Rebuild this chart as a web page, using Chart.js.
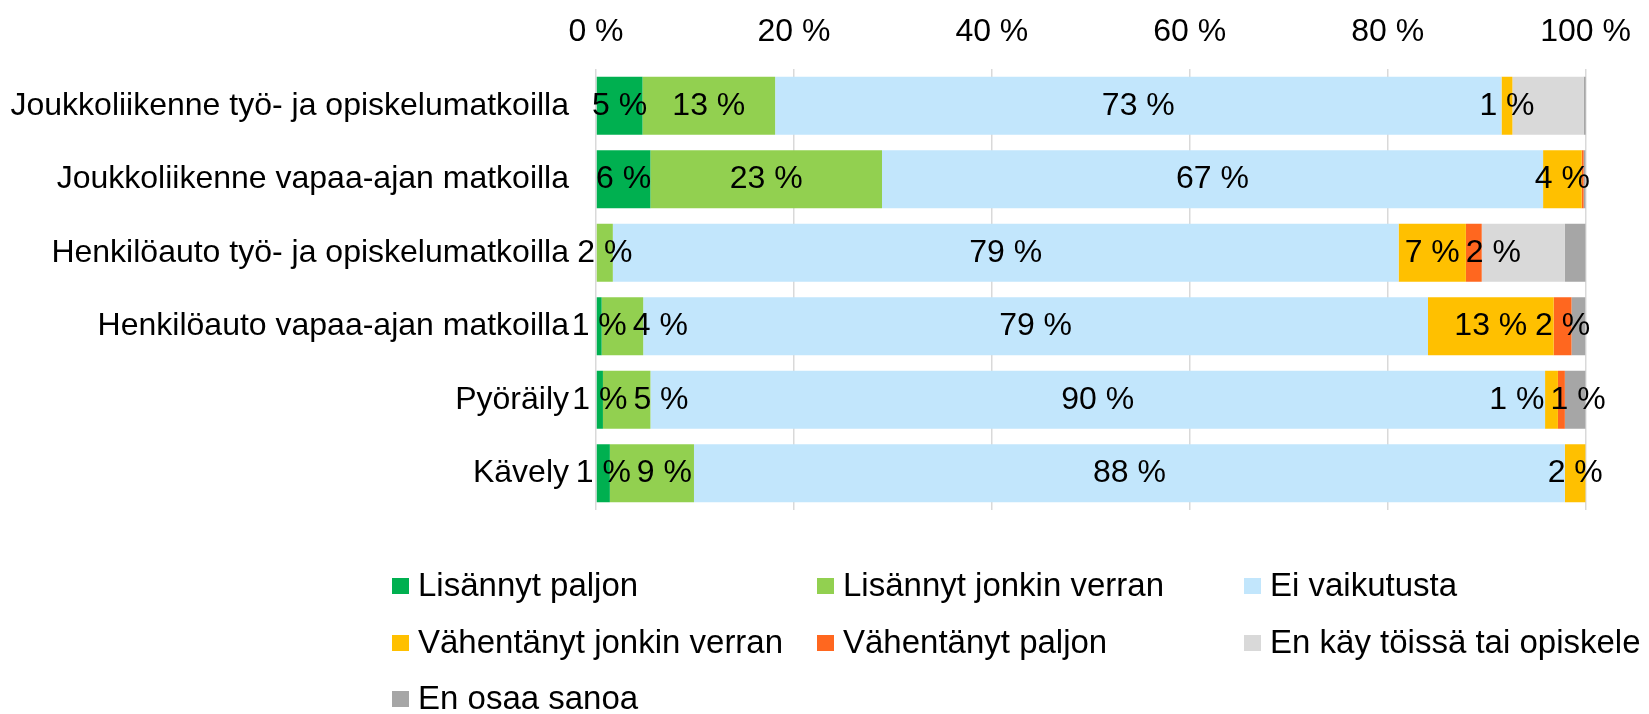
<!DOCTYPE html>
<html>
<head>
<meta charset="utf-8">
<script src="https://cdn.jsdelivr.net/npm/chart.js@4.4.1/dist/chart.umd.min.js"></script>
<style>
html, body { margin: 0; padding: 0; background: #fff; }
#wrap { width: 1649px; height: 714px; }
</style>
</head>
<body>
<div id="wrap"><canvas id="myBar" width="1649" height="714"></canvas></div>
<script>
var categories = [
	'Joukkoliikenne työ- ja opiskelumatkoilla',
	'Joukkoliikenne vapaa-ajan matkoilla',
	'Henkilöauto työ- ja opiskelumatkoilla',
	'Henkilöauto vapaa-ajan matkoilla',
	'Pyöräily',
	'Kävely'
];
var seriesNames = [
	'Lisännyt paljon',
	'Lisännyt jonkin verran',
	'Ei vaikutusta',
	'Vähentänyt jonkin verran',
	'Vähentänyt paljon',
	'En käy töissä tai opiskele',
	'En osaa sanoa'
];
var lisannytPaljon  = [4.7, 5.5, 0, 0.57, 0.7, 1.4];
var lisannytJonkin  = [13.4, 23.4, 1.7, 4.2, 4.8, 8.5];
var eiVaikutusta    = [73.4, 66.8, 79.4, 79.3, 90.4, 88.0];
var vahentanytJonk  = [1.1, 3.9, 6.8, 12.7, 1.3, 2.1];
var vahentanytPalj  = [0, 0.2, 1.6, 1.8, 0.7, 0];
var enKayToissa     = [7.2, 0, 8.4, 0, 0, 0];
var enOsaaSanoa     = [0.3, 0.2, 2.1, 1.4, 2.1, 0];
var xTicks = [0, 20, 40, 60, 80, 100];

var colors = ['#00B050', '#92D050', '#C2E6FC', '#FFC000', '#FF671F', '#D9D9D9', '#A6A6A6'];
var showLabel = [true, true, true, true, true, false, false];
var FONT = '"Liberation Sans", Arial, sans-serif';

var allSeries = [lisannytPaljon, lisannytJonkin, eiVaikutusta, vahentanytJonk, vahentanytPalj, enKayToissa, enOsaaSanoa];
var datasets = allSeries.map(function(d, i) {
	return {
		label: seriesNames[i],
		data: d,
		backgroundColor: colors[i],
		borderWidth: 0,
		barPercentage: 0.79,
		categoryPercentage: 1
	};
});

// labels in the middle of each segment, nudged right when they overlap
var segLabels = {
	id: 'segLabels',
	afterDatasetsDraw: function(chart) {
		var ctx = chart.ctx;
		var limit = chart.chartArea.right + 20;
		ctx.save();
		ctx.font = '32px ' + FONT;
		ctx.fillStyle = '#000';
		ctx.textAlign = 'center';
		ctx.textBaseline = 'middle';
		categories.forEach(function(c, j) {
			var items = [];
			chart.data.datasets.forEach(function(ds, i) {
				if (!showLabel[i]) return;
				var v = ds.data[j];
				if (v < 0.5) return;
				var el = chart.getDatasetMeta(i).data[j];
				var t = Math.round(v) + ' %';
				items.push({x: (el.x + el.base) / 2, y: el.y, t: t, w: ctx.measureText(t).width});
			});
			for (var k = 1; k < items.length; k++) {
				var a = items[k - 1], b = items[k];
				var over = (a.x + a.w / 2) - (b.x - b.w / 2) + 6;
				if (over > 0) {
					b.x += over;
					var extra = b.x + b.w / 2 - limit;
					if (extra > 0) { a.x -= extra; b.x -= extra; }
				}
			}
			items.forEach(function(it) { ctx.fillText(it.t, it.x, it.y); });
		});
		ctx.restore();
	}
};

// excel-like legend in 3 columns
var gridLegend = {
	id: 'gridLegend',
	afterDraw: function(chart) {
		var ctx = chart.ctx;
		var colX = [392, 817, 1244];
		var rowY = [586, 643, 699];
		ctx.save();
		ctx.font = '33px ' + FONT;
		ctx.textAlign = 'left';
		ctx.textBaseline = 'middle';
		chart.data.datasets.forEach(function(ds, i) {
			var x = colX[i % 3], y = rowY[Math.floor(i / 3)];
			ctx.fillStyle = ds.backgroundColor;
			ctx.fillRect(x, y - 8, 17, 16);
			ctx.fillStyle = '#000';
			ctx.fillText(ds.label, x + 26, y + 1);
		});
		ctx.restore();
	}
};

var config = {
	type: 'bar',
	data: {
		labels: categories,
		datasets: datasets
	},
	options: {
		indexAxis: 'y',
		responsive: false,
		animation: false,
		devicePixelRatio: 1,
		layout: { padding: { top: 0, right: 62, bottom: 204, left: 0 } },
		plugins: {
			legend: { display: false },
			tooltip: { enabled: false }
		},
		scales: {
			x: {
				position: 'top',
				stacked: true,
				min: 0,
				max: 100,
				afterBuildTicks: function(s) { s.ticks = xTicks.map(function(v) { return {value: v}; }); },
				afterFit: function(s) { s.height = 69; },
				grid: { color: '#D9D9D9', lineWidth: 1.5, drawTicks: false },
				border: { display: false },
				ticks: {
					padding: 18,
					color: '#000',
					font: { size: 32, family: FONT },
					maxRotation: 0,
					callback: function(v) { return v + ' %'; }
				}
			},
			y: {
				stacked: true,
				grid: { display: false, drawTicks: false },
				border: { display: false },
				afterFit: function(s) { s.width = 596; },
				ticks: {
					padding: 27,
					color: '#000',
					font: { size: 32, family: FONT }
				}
			}
		}
	},
	plugins: [segLabels, gridLegend]
};

var myBar = new Chart(document.getElementById('myBar'), config);
</script>
</body>
</html>
